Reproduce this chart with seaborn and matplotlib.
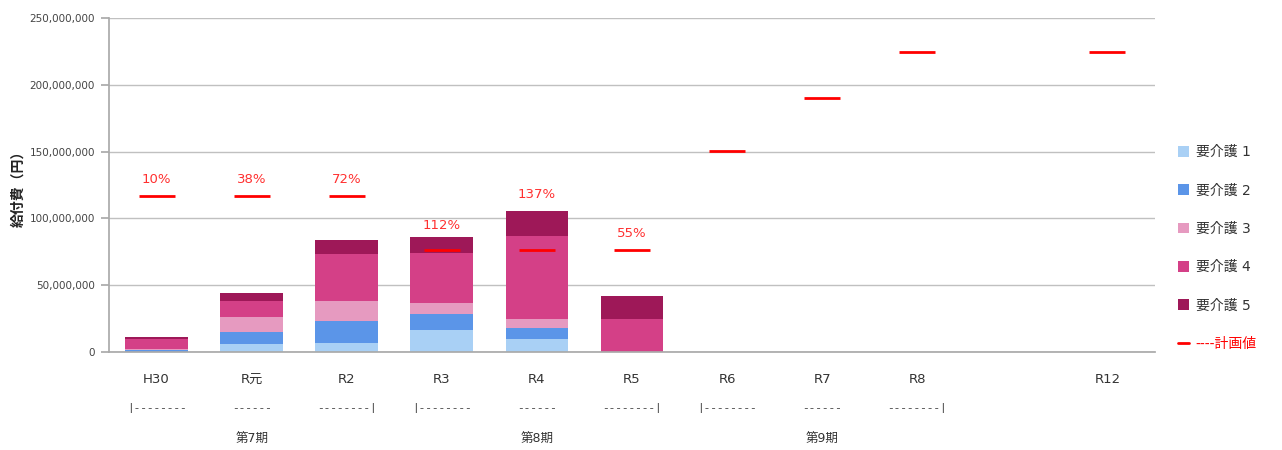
import numpy as np
import pandas as pd
import seaborn as sns
import matplotlib.pyplot as plt
from matplotlib import transforms
from matplotlib.patches import Patch
from matplotlib.lines import Line2D
from matplotlib.ticker import FuncFormatter

# data (円)
years = ["H30", "R元", "R2", "R3", "R4", "R5", "R6", "R7", "R8", " ", "R12"]
levels = ["要介護 1", "要介護 2", "要介護 3", "要介護 4", "要介護 5"]
care1 = [300000, 6000000, 6500000, 16500000, 9500000, 0, 0, 0, 0, 0, 0]
care2 = [1200000, 8800000, 16900000, 12000000, 8700000, 0, 0, 0, 0, 0, 0]
care3 = [400000, 11500000, 14700000, 8000000, 6500000, 0, 0, 0, 0, 0, 0]
care4 = [7700000, 12200000, 35200000, 37400000, 62100000, 24700000, 0, 0, 0, 0, 0]
care5 = [2000000, 5500000, 10500000, 12000000, 18700000, 17400000, 0, 0, 0, 0, 0]
plan = [116800000, 116800000, 116800000, 76300000, 76300000, 76300000,
        150400000, 190100000, 224600000, np.nan, 224600000]
pct_labels = ["10%", "38%", "72%", "112%", "137%", "55%", "", "", "", "", ""]
period_marks = ["|--------", "------", "--------|", "|--------", "------", "--------|",
                "|--------", "------", "--------|", "", ""]
period_names = ["", "第7期", "", "", "第8期", "", "", "第9期", "", "", ""]

colors = ["#a9d0f5", "#5b95e8", "#e69ac0", "#d44087", "#9e1858"]
plan_color = "#ff0000"

sns.set_theme(style="white")
plt.rcParams["font.family"] = ["DejaVu Sans", "Noto Sans CJK JP"]

df = pd.DataFrame({"year": years, levels[0]: care1, levels[1]: care2,
                   levels[2]: care3, levels[3]: care4, levels[4]: care5,
                   "plan": plan})
cum = df[levels].cumsum(axis=1)

fig = plt.figure(figsize=(12.82, 4.5), dpi=100)
ax = fig.add_axes([109 / 1282, 1 - 352 / 450, (1155 - 109) / 1282, 334 / 450])

# stacked bars: draw the cumulative totals from the top layer down
for k in range(len(levels) - 1, -1, -1):
    sns.barplot(x=df["year"], y=cum[levels[k]], order=years, color=colors[k],
                width=0.66, linewidth=0, saturation=1, errorbar=None, ax=ax)

sns.pointplot(x=df["year"], y=df["plan"], order=years, color=plan_color,
              markers="_", linestyle="none", markersize=26,
              markeredgewidth=2, errorbar=None, ax=ax)

# achievement ratio labels
totals = cum[levels[-1]].values
for i, lab in enumerate(pct_labels):
    if not lab:
        continue
    top = np.nanmax([totals[i], plan[i]])
    off = 4 if totals[i] > plan[i] and i == 3 else 7
    ax.annotate(lab, (i, top), xytext=(0, off), textcoords="offset points",
                ha="center", va="bottom", color="#ff3030", fontsize=9.5)

# period rows under the x axis
trans = transforms.blended_transform_factory(ax.transData, ax.transAxes)
for i, (m, p) in enumerate(zip(period_marks, period_names)):
    if m:
        ax.text(i, -0.168, m, transform=trans, ha="center", va="center",
                fontsize=8, family="Liberation Mono", color="#333333")
    if p:
        ax.text(i, -0.263, p, transform=trans, ha="center", va="center",
                fontsize=9, color="#333333")

ax.set_xlim(-0.5, len(years) - 0.5)
ax.set_ylim(0, 250000000)
ax.set_yticks(np.arange(0, 250000001, 50000000))
ax.yaxis.set_major_formatter(FuncFormatter(lambda v, p: f"{v:,.0f}"))
ax.grid(axis="y", color="#c0c0c0", linewidth=1)
ax.set_axisbelow(True)
for s in ["top", "right"]:
    ax.spines[s].set_visible(False)
for s in ["left", "bottom"]:
    ax.spines[s].set_color("#aaaaaa")
ax.tick_params(axis="y", left=True, length=6, color="#aaaaaa",
               labelsize=7.5, labelcolor="#444444", pad=4)
ax.tick_params(axis="x", bottom=False, labelsize=9.5, labelcolor="#333333", pad=9)
ax.set_xlabel("")
ax.set_ylabel("給付費（円）", fontsize=10, fontweight="bold", color="#222222",
              labelpad=3)

handles = [Patch(facecolor=c, edgecolor="none") for c in colors]
handles.append(Line2D([0], [0], color=plan_color, linewidth=2))
leg = fig.legend(handles, levels + ["----計画値"], loc="center left",
                 bbox_to_anchor=(1165 / 1282, 1 - 248 / 450), frameon=False,
                 fontsize=10, handlelength=0.8, handleheight=0.8,
                 handletextpad=0.5, labelspacing=1.75)
for t in leg.get_texts():
    t.set_color("#333333")
leg.get_texts()[-1].set_color(plan_color)

fig.savefig("out.png", dpi=100)
